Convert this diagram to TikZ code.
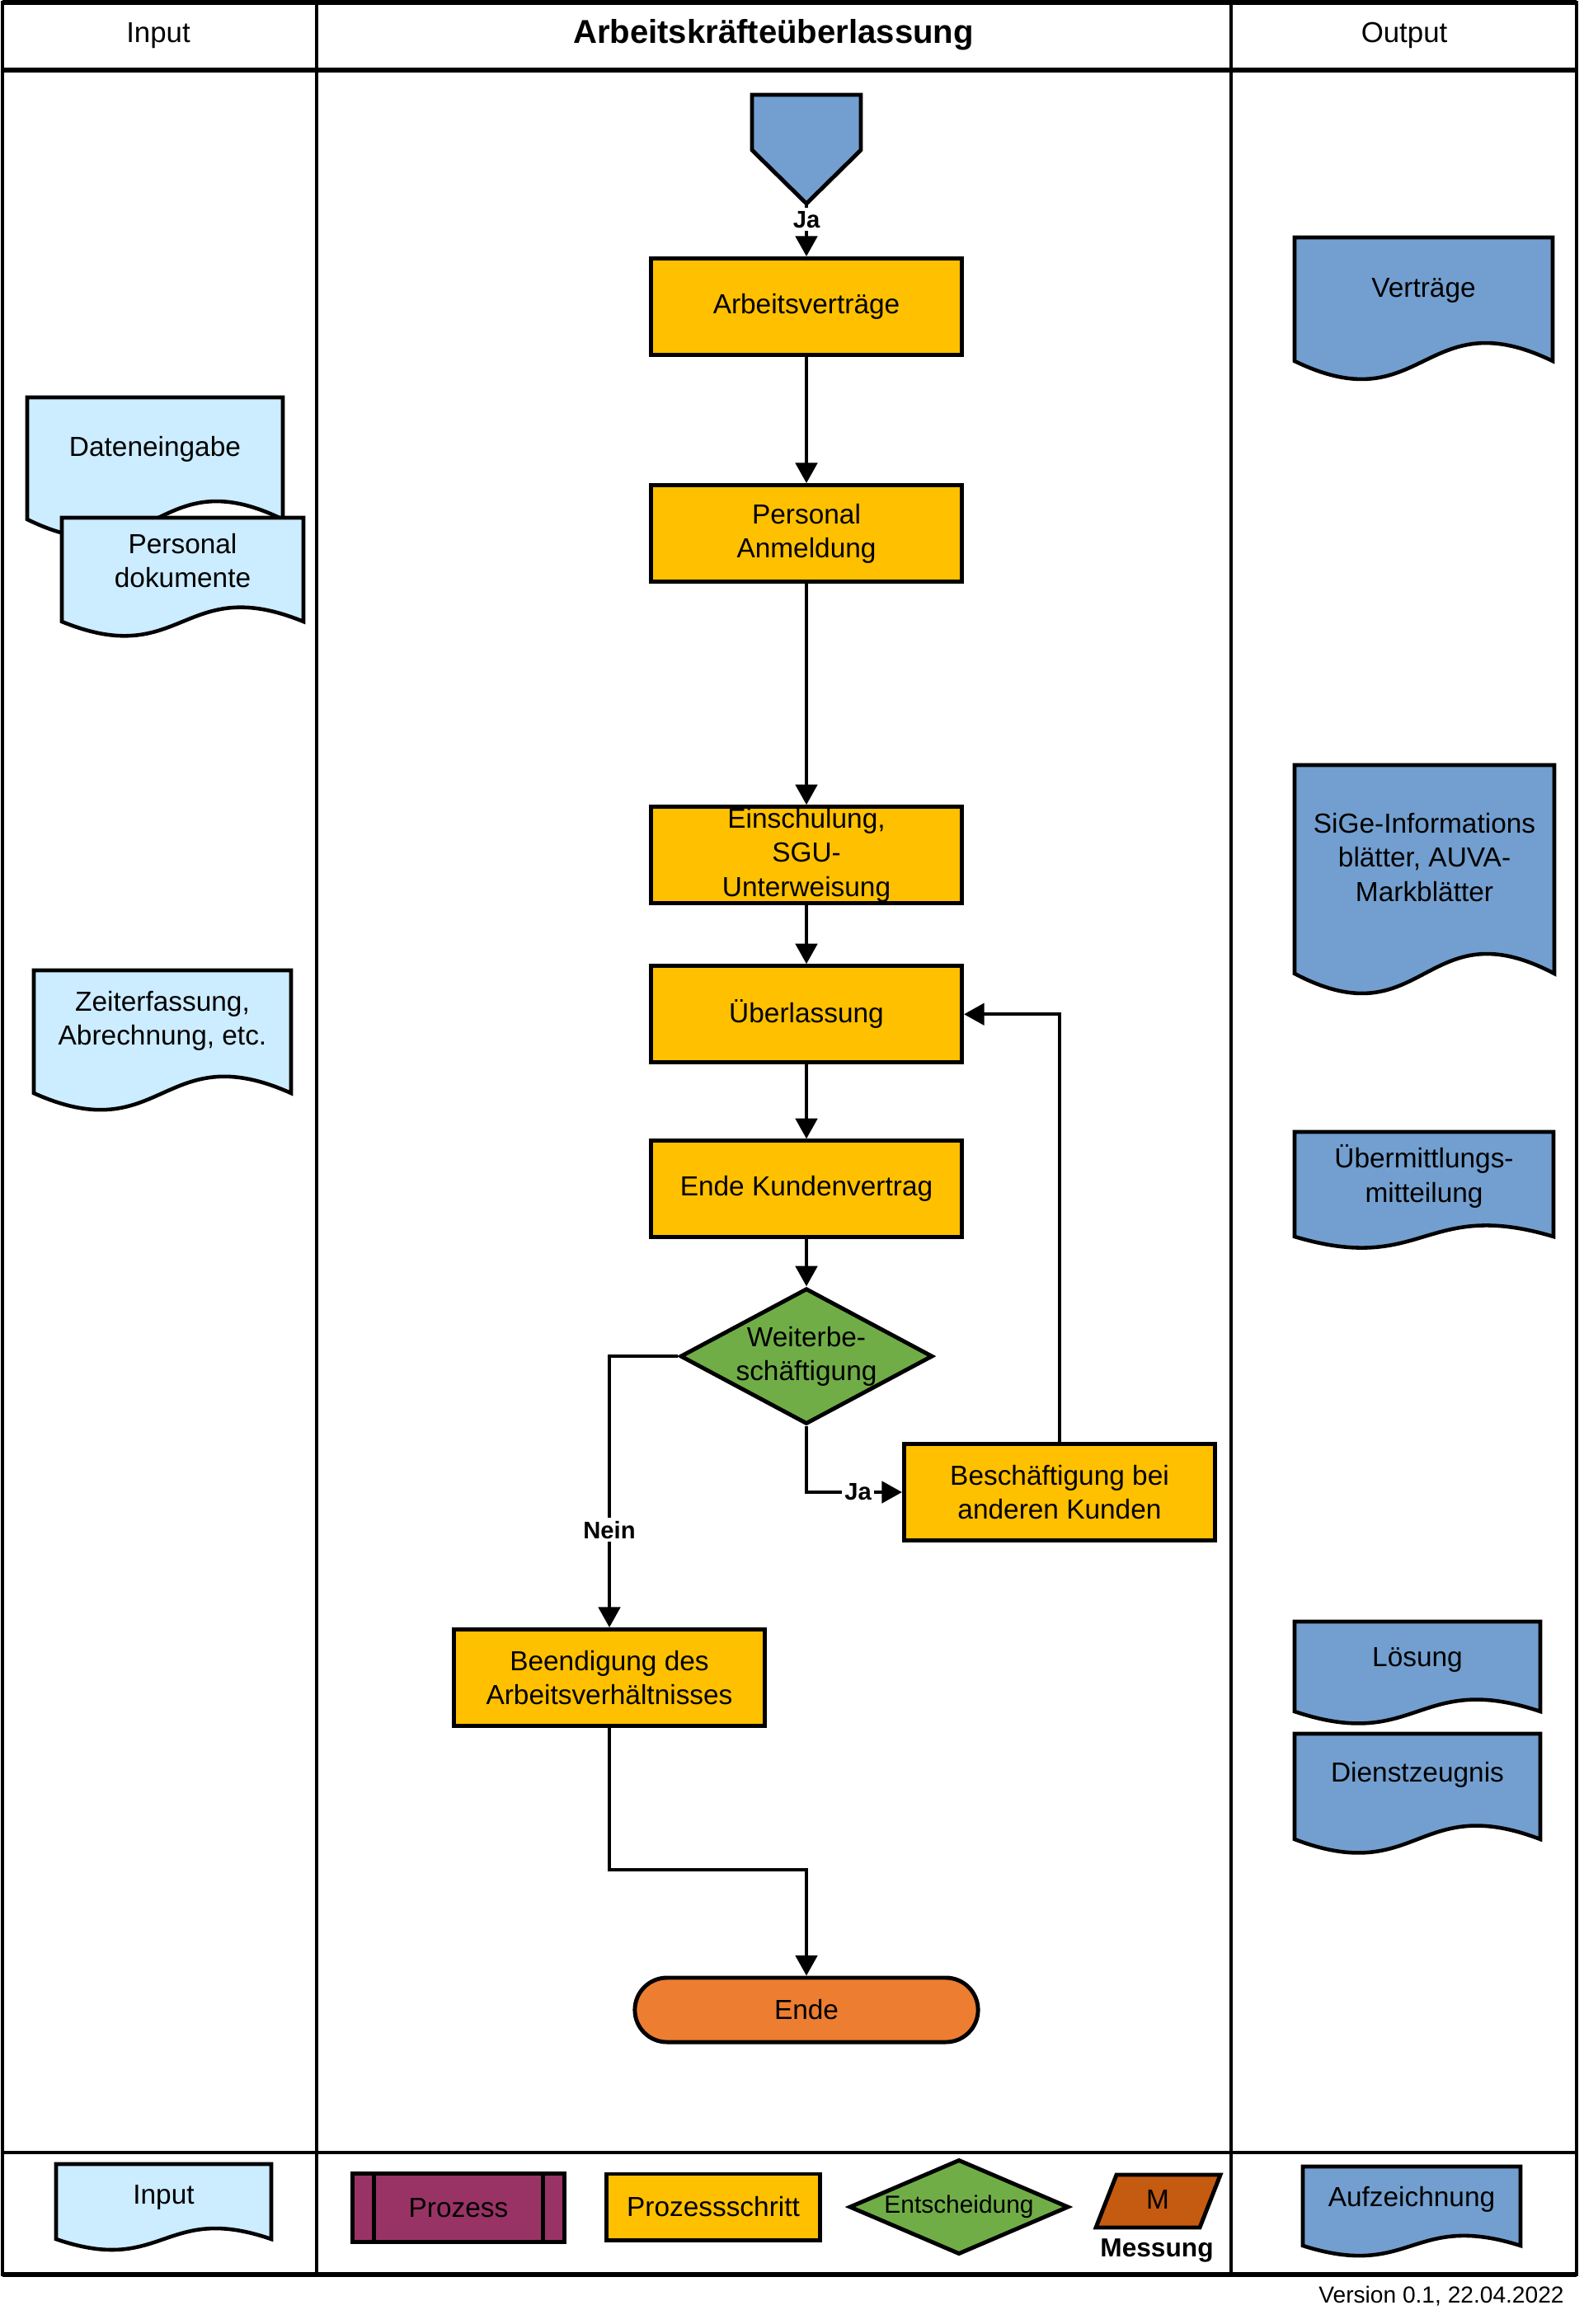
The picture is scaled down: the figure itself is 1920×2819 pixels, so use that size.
\documentclass[tikz,border=0pt]{standalone}
\usepackage{fontspec}
\setmainfont{Liberation Sans}
\usepackage{tikz}
\usetikzlibrary{arrows.meta, calc, shapes.geometric, positioning}
\definecolor{inputblau}{HTML}{CCECFF}
\definecolor{outputblau}{HTML}{729FCF}
\definecolor{schrittgelb}{HTML}{FFC000}
\definecolor{entschgruen}{HTML}{70AD47}
\definecolor{endeorange}{HTML}{ED7D31}
\definecolor{prozesslila}{HTML}{993366}
\definecolor{messorange}{HTML}{C55A11}

% document shape: name, x1, top, x2, bottom, wave, fill, text y, text
\newcommand{\dokument}[9]{%
  \draw[doklinie, fill=#7] (#2,#3) -- (#2,#5)
    .. controls ({(#2+#4)/2},{#5+#6}) and ({(#2+#4)/2},{#5-#6}) .. (#4,#5)
    -- (#4,#3) -- cycle;
  \node[doktext] (#1) at ({(#2+#4)/2},#8) {#9};}

\begin{document}
\begin{tikzpicture}[
    x=0.01cm, y=-0.01cm,
    font=\fontsize{9.5}{11.7}\selectfont,
    schritt/.style      = {draw, line width=1.4pt, fill=schrittgelb, align=center,
                           minimum width=3.77cm, minimum height=1.17cm, inner ysep=0pt},
    entscheidung/.style = {diamond, draw, line width=1.4pt, fill=entschgruen, align=center,
                           aspect=1.85, inner sep=0pt, minimum width=3.06cm, minimum height=1.64cm},
    terminal/.style     = {draw, line width=1.4pt, fill=endeorange, rounded corners=0.39cm,
                           minimum width=4.16cm, minimum height=0.78cm},
    prozess/.style      = {draw, line width=1.4pt, fill=prozesslila,
                           minimum width=2.56cm, minimum height=0.83cm},
    doklinie/.style     = {draw, line width=1.3pt},
    doktext/.style      = {align=center, inner sep=0pt},
    kopf/.style         = {font=\fontsize{9.9}{12}\selectfont},
    marke/.style        = {font=\bfseries\fontsize{8.3}{10}\selectfont, fill=white, inner sep=1pt},
    pfeil/.style        = {-{Triangle[length=7pt, width=7.5pt]}, line width=1.1pt},
    rahmen/.style       = {line width=1pt},
    rahmendick/.style   = {line width=1.6pt},
  ]
  \useasboundingbox (0,0) rectangle (1920,2819);

  % frame and lanes
  \draw[rahmen] (3,3) rectangle (1912,2759);
  \draw[rahmendick] (3,3) -- (1912,3);
  \draw[rahmendick] (3,85) -- (1912,85);
  \draw[rahmendick] (3,2759) -- (1912,2759);
  \draw[rahmen] (3,2611) -- (1912,2611);
  \draw[rahmen] (384,3) -- (384,2759);
  \draw[rahmen] (1493,3) -- (1493,2759);

  \node[kopf] (kopfinput) at (192,43) {Input};
  \node[font=\bfseries\fontsize{11.4}{13}\selectfont] (kopftitel) at (938,42) {Arbeitskräfteüberlassung};
  \node[kopf] (kopfoutput) at (1703,43) {Output};

  % start
  \draw[line width=1.4pt, fill=outputblau] (912,115) -- (1044,115) -- (1044,182)
    -- (978,247) -- (912,182) -- cycle;
  \coordinate (startspitze) at (978,247);

  % main flow
  \node[schritt] (vertraege) at (978,372) {Arbeitsverträge};
  \node[schritt, below=1.53cm of vertraege] (anmeldung) {Personal\\Anmeldung};
  \node[schritt, below=2.68cm of anmeldung] (einschulung) {Einschulung,\\SGU-\\Unterweisung};
  \node[schritt, below=0.71cm of einschulung] (ueberlassung) {Überlassung};
  \node[schritt, below=0.9cm of ueberlassung] (kundenende) {Ende Kundenvertrag};
  \node[entscheidung, below=0.57cm of kundenende] (weiter) {Weiterbe-\\schäftigung};
  \node[schritt] (andere) at (1285,1810) {Beschäftigung bei\\anderen Kunden};
  \node[schritt] (beendigung) at (739,2035) {Beendigung des\\Arbeitsverhältnisses};
  \node[terminal] (ende) at (978,2438) {Ende};

  \draw[pfeil] (startspitze) -- node[marke, pos=0.3] {Ja} (vertraege);
  \draw[pfeil] (vertraege) -- (anmeldung);
  \draw[pfeil] (anmeldung) -- (einschulung);
  \draw[pfeil] (einschulung) -- (ueberlassung);
  \draw[pfeil] (ueberlassung) -- (kundenende);
  \draw[pfeil] (kundenende) -- (weiter);
  \draw[pfeil] (weiter.south) |- node[marke, pos=0.77] {Ja} (andere.west);
  \draw[pfeil] (andere.north) |- (ueberlassung.east);
  \draw[pfeil] (weiter.west) -| node[marke, pos=0.82] {Nein} (beendigung.north);
  \draw[pfeil] (beendigung.south) -- ++(0,172) -| (ende.north);

  % input documents
  \dokument{dateneingabe}{33}{482}{343}{630}{76}{inputblau}{545}{Dateneingabe}
  \dokument{personaldok}{75}{628}{368}{754}{60}{inputblau}{680}{Personal\\dokumente}
  \dokument{zeiterfassung}{41}{1177}{353}{1326}{70}{inputblau}{1238}{Zeiterfassung,\\Abrechnung, etc.}

  % output documents
  \dokument{vertragdok}{1570}{288}{1883}{438}{76}{outputblau}{352}{Verträge}
  \dokument{sige}{1570}{928}{1885}{1181}{83}{outputblau}{1040}{SiGe-Informations\\blätter, AUVA-\\Markblätter}
  \dokument{uebermittlung}{1570}{1373}{1884}{1500}{47}{outputblau}{1427}{Übermittlungs-\\mitteilung}
  \dokument{loesung}{1570}{1967}{1868}{2076}{50}{outputblau}{2013}{Lösung}
  \dokument{zeugnis}{1570}{2103}{1868}{2231}{57}{outputblau}{2153}{Dienstzeugnis}

  % legend
  \dokument{leginput}{68}{2625}{329}{2716}{45}{inputblau}{2665}{Input}
  \node[prozess] (legprozess) at (556,2678) {Prozess};
  \draw[line width=1.2pt] ([xshift=0.28cm]legprozess.north west) -- ([xshift=0.28cm]legprozess.south west);
  \draw[line width=1.2pt] ([xshift=-0.28cm]legprozess.north east) -- ([xshift=-0.28cm]legprozess.south east);
  \node[schritt, minimum width=2.58cm, minimum height=0.8cm] (legschritt) at (865,2677) {Prozessschritt};
  \node[entscheidung, aspect=2.27, minimum width=2.66cm, minimum height=1.15cm,
        font=\fontsize{8.5}{10}\selectfont] (legentsch) at (1163,2677) {Entscheidung};
  \draw[line width=1.4pt, fill=messorange] (1329,2702) -- (1354,2638) -- (1480,2638)
    -- (1455,2702) -- cycle;
  \node (legmessung) at (1404,2668) {M};
  \node[font=\bfseries\fontsize{9}{11}\selectfont] (legmesstext) at (1403,2730) {Messung};
  \dokument{legaufz}{1580}{2628}{1844}{2724}{42}{outputblau}{2668}{Aufzeichnung}

  \node[anchor=east, font=\fontsize{8}{10}\selectfont] (version) at (1909,2785) {Version 0.1, 22.04.2022};
\end{tikzpicture}
\end{document}
